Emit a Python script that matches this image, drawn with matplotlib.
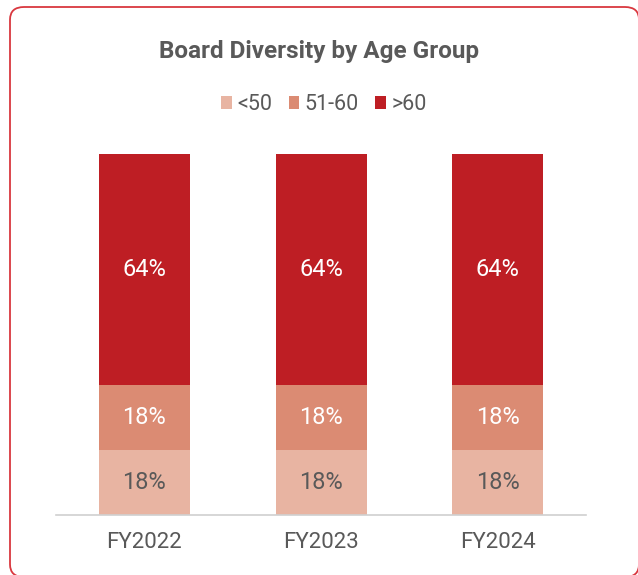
import matplotlib
matplotlib.use("Agg")
import matplotlib.pyplot as plt
from matplotlib.patches import FancyBboxPatch, Patch

plt.rcParams['font.family'] = ['Roboto', 'DejaVu Sans']

years = ['FY2022', 'FY2023', 'FY2024']
groups = ['<50', '51-60', '>60']
under_50 = [18, 18, 18]
age_51_60 = [18, 18, 18]
over_60 = [64, 64, 64]

colors = ['#E8B4A2', '#DB8B73', '#BE1E24']
label_colors = ['#595959', 'white', 'white']
grey = '#595959'

fig = plt.figure(figsize=(6.38, 5.75), dpi=100)
ax = fig.add_axes([0.0878, 0.1043, 0.8307, 0.6278])

x = range(len(years))
bottom = [0, 0, 0]
for vals, col, lcol in zip([under_50, age_51_60, over_60], colors, label_colors):
    bars = ax.bar(x, vals, bottom=bottom, width=0.515, color=col, edgecolor='none')
    for b, v in zip(bars, vals):
        ax.text(b.get_x() + b.get_width() / 2, b.get_y() + v / 2, f'{v}%',
                ha='center', va='center', color=lcol, fontsize=17)
    bottom = [b0 + v for b0, v in zip(bottom, vals)]

ax.set_xlim(-0.5, 2.5)
ax.set_ylim(0, 100)
ax.set_xticks(list(x))
ax.set_xticklabels(years, fontsize=16, color=grey)
ax.tick_params(axis='x', length=0, pad=12)
ax.set_yticks([])
for side in ['top', 'right', 'left']:
    ax.spines[side].set_visible(False)
ax.spines['bottom'].set_color('#D0D0D0')
ax.spines['bottom'].set_linewidth(1.2)

fig.text(0.5, 0.911, 'Board Diversity by Age Group', ha='center', va='center',
         fontsize=17.5, fontweight='bold', color=grey)

handles = [Patch(facecolor=c, edgecolor='none') for c in colors]
fig.legend(handles, groups, loc='center', bbox_to_anchor=(0.508, 0.818), ncol=3,
           frameon=False, fontsize=15.5, labelcolor=grey, handlelength=0.5,
           handleheight=0.5, handletextpad=0.25, columnspacing=0.75)

# rounded outline around the whole card, running off the right and bottom edges
border = FancyBboxPatch((10 / 638, -2 / 575), 629 / 638, 570 / 575,
                        boxstyle='round,pad=0,rounding_size=0.022',
                        transform=fig.transFigure, fill=False,
                        edgecolor='#D9383F', linewidth=1.3, clip_on=False)
fig.patches.append(border)

fig.savefig('out.png', dpi=100)
